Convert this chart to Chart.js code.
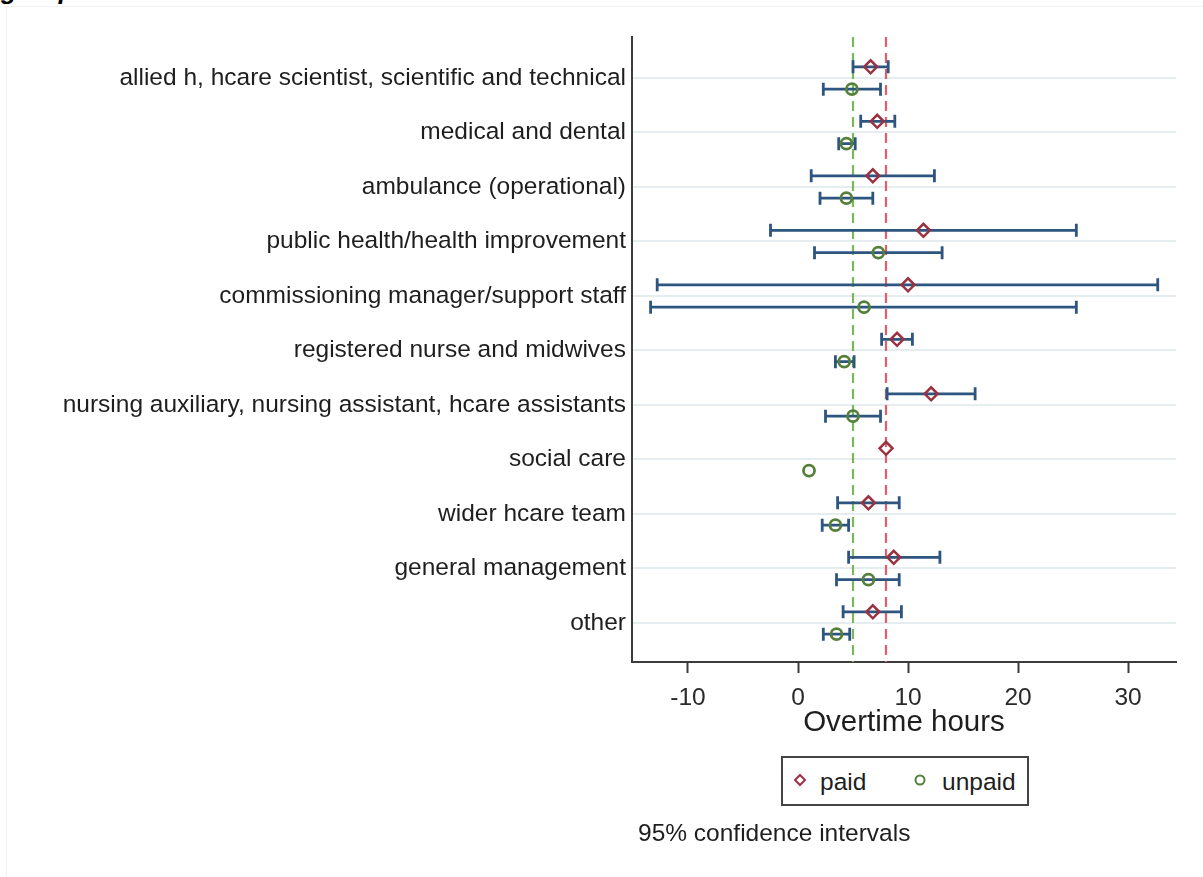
<!DOCTYPE html>
<html>
<head>
<meta charset="utf-8">
<script src="https://cdn.jsdelivr.net/npm/chart.js@4.4.0/dist/chart.umd.min.js"></script>
<style>
  html, body { margin: 0; padding: 0; background: #ffffff; }
  #wrap { position: relative; width: 1203px; height: 877px; overflow: hidden; font-family: "Liberation Sans", Arial, sans-serif; background: #fff; }
  #c { position: absolute; left: 0; top: 0; }
  .frameH { position: absolute; left: 5px; top: 6px; width: 1198px; height: 1px; background: #f1f1f1; }
  .frameV { position: absolute; left: 6px; top: 6px; width: 1px; height: 871px; background: #f1f1f1; }
  #caption { position: absolute; left: 1px; top: -25px; font: italic bold 26px "Liberation Sans", Arial, sans-serif; line-height: 30px; color: #000; white-space: nowrap; }
  #legend { position: absolute; left: 781px; top: 756px; width: 244px; height: 46px; border: 2px solid #444; background: #fff; }
  .lg { position: absolute; font-size: 24.5px; color: #1e1e1e; line-height: 30px; top: 9px; }
  .sym { position: absolute; top: 15px; }
  #note { position: absolute; left: 638px; top: 818px; font-size: 24.5px; color: #1e1e1e; line-height: 30px; white-space: nowrap; }
</style>
</head>
<body>
<div id="wrap">
  <div class="frameH"></div>
  <div class="frameV"></div>
  <div id="caption">group</div>
  <canvas id="c" width="1203" height="877"></canvas>
  <div id="legend">
    <svg class="sym" style="left:10px" width="14" height="14" viewBox="0 0 14 14"><path d="M7 2 L12 7 L7 12 L2 7 Z" fill="none" stroke="#9a3040" stroke-width="2"/></svg>
    <span class="lg" style="left:37px">paid</span>
    <svg class="sym" style="left:130px" width="14" height="14" viewBox="0 0 14 14"><circle cx="7" cy="7" r="4.5" fill="none" stroke="#55803a" stroke-width="2"/></svg>
    <span class="lg" style="left:159px">unpaid</span>
  </div>
  <div id="note">95% confidence intervals</div>
</div>
<script>
// ---- data ----
const categories = [
  "allied h, hcare scientist, scientific and technical",
  "medical and dental",
  "ambulance (operational)",
  "public health/health improvement",
  "commissioning manager/support staff",
  "registered nurse and midwives",
  "nursing auxiliary, nursing assistant, hcare assistants",
  "social care",
  "wider hcare team",
  "general management",
  "other"
];
const paidMean   = [6.6, 7.2, 6.8, 11.4, 10.0, 9.0, 12.1, 8.0, 6.4, 8.7, 6.8];
const paidLow    = [5.0, 5.7, 1.2, -2.5, -12.8, 7.6, 8.1, null, 3.6, 4.6, 4.1];
const paidHigh   = [8.2, 8.8, 12.4, 25.3, 32.7, 10.4, 16.1, null, 9.2, 12.9, 9.4];
const unpaidMean = [4.9, 4.4, 4.4, 7.3, 6.0, 4.2, 5.0, 1.0, 3.4, 6.4, 3.5];
const unpaidLow  = [2.3, 3.7, 2.0, 1.5, -13.4, 3.4, 2.5, null, 2.2, 3.5, 2.3];
const unpaidHigh = [7.5, 5.2, 6.8, 13.1, 25.3, 5.1, 7.5, null, 4.6, 9.2, 4.7];
const xTickValues = [-10, 0, 10, 20, 30];
const refLines = [
  { value: 5.0, color: "#7ab85c" },   // mean unpaid
  { value: 8.0, color: "#e45e6a" }    // mean paid
];

// ---- styling ----
const FONT = "'Liberation Sans', Arial, sans-serif";
const OFF = 0.205;
const ERR_COLOR = "#2d5580";
const PAID_COLOR = "#9a3040";
const UNPAID_COLOR = "#55803a";

const intervalPlugin = {
  id: "intervals",
  beforeDatasetsDraw(chart) {
    const { ctx, chartArea, scales: { x, y } } = chart;
    ctx.save();
    // reference lines
    ctx.lineWidth = 2.2;
    ctx.setLineDash([10, 6]);
    refLines.forEach(r => {
      const px = Math.round(x.getPixelForValue(r.value));
      ctx.strokeStyle = r.color;
      ctx.beginPath();
      ctx.moveTo(px, chartArea.top);
      ctx.lineTo(px, chartArea.bottom);
      ctx.stroke();
    });
    ctx.setLineDash([]);
    // confidence intervals
    ctx.strokeStyle = ERR_COLOR;
    ctx.lineWidth = 2.8;
    const drawSeries = (lo, hi, off) => {
      categories.forEach((c, i) => {
        if (lo[i] === null || hi[i] === null) return;
        const py = y.getPixelForValue(i + off);
        const x1 = x.getPixelForValue(lo[i]);
        const x2 = x.getPixelForValue(hi[i]);
        ctx.beginPath();
        ctx.moveTo(x1, py); ctx.lineTo(x2, py);
        ctx.moveTo(x1, py - 6.5); ctx.lineTo(x1, py + 6.5);
        ctx.moveTo(x2, py - 6.5); ctx.lineTo(x2, py + 6.5);
        ctx.stroke();
      });
    };
    drawSeries(paidLow, paidHigh, -OFF);
    drawSeries(unpaidLow, unpaidHigh, OFF);
    ctx.restore();
  }
};

new Chart(document.getElementById("c"), {
  type: "scatter",
  data: {
    datasets: [
      {
        label: "paid",
        data: paidMean.map((v, i) => ({ x: v, y: i - OFF })),
        pointStyle: "rectRot",
        pointRadius: 6.5,
        borderColor: PAID_COLOR,
        backgroundColor: "rgba(255,255,255,0)",
        pointBorderWidth: 2.5
      },
      {
        label: "unpaid",
        data: unpaidMean.map((v, i) => ({ x: v, y: i + OFF })),
        pointStyle: "circle",
        pointRadius: 5.5,
        borderColor: UNPAID_COLOR,
        backgroundColor: "rgba(255,255,255,0)",
        pointBorderWidth: 2.8
      }
    ]
  },
  options: {
    responsive: false,
    animation: false,
    layout: { padding: { left: 0, top: 37, right: 27, bottom: 136.3 } },
    plugins: { legend: { display: false }, tooltip: { enabled: false } },
    scales: {
      x: {
        type: "linear",
        min: -15.09,
        max: 34.36,
        afterBuildTicks: s => { s.ticks = xTickValues.map(v => ({ value: v })); },
        afterFit: s => { s.height = 78.7; },
        ticks: { font: { family: FONT, size: 24.5 }, color: "#2a2a2a", padding: 11, maxRotation: 0, autoSkip: false },
        grid: { drawOnChartArea: false, drawTicks: true, tickLength: 11, tickColor: "#3c3c3c", tickWidth: 2 },
        border: { color: "#3c3c3c", width: 2 },
        title: { display: true, text: "Overtime hours", font: { family: FONT, size: 29.5 }, color: "#1e1e1e", padding: 0 }
      },
      y: {
        type: "linear",
        reverse: true,
        min: -0.752,
        max: 10.716,
        afterBuildTicks: s => { s.ticks = categories.map((c, i) => ({ value: i })); },
        afterFit: s => { s.width = 632; },
        ticks: {
          font: { family: FONT, size: 24.5 }, color: "#1e1e1e", padding: 6, autoSkip: false,
          callback: (v, i) => categories[i]
        },
        grid: { color: "#e6edf0", lineWidth: 2, drawTicks: false },
        border: { color: "#3c3c3c", width: 2 }
      }
    }
  },
  plugins: [intervalPlugin]
});
</script>
</body>
</html>
